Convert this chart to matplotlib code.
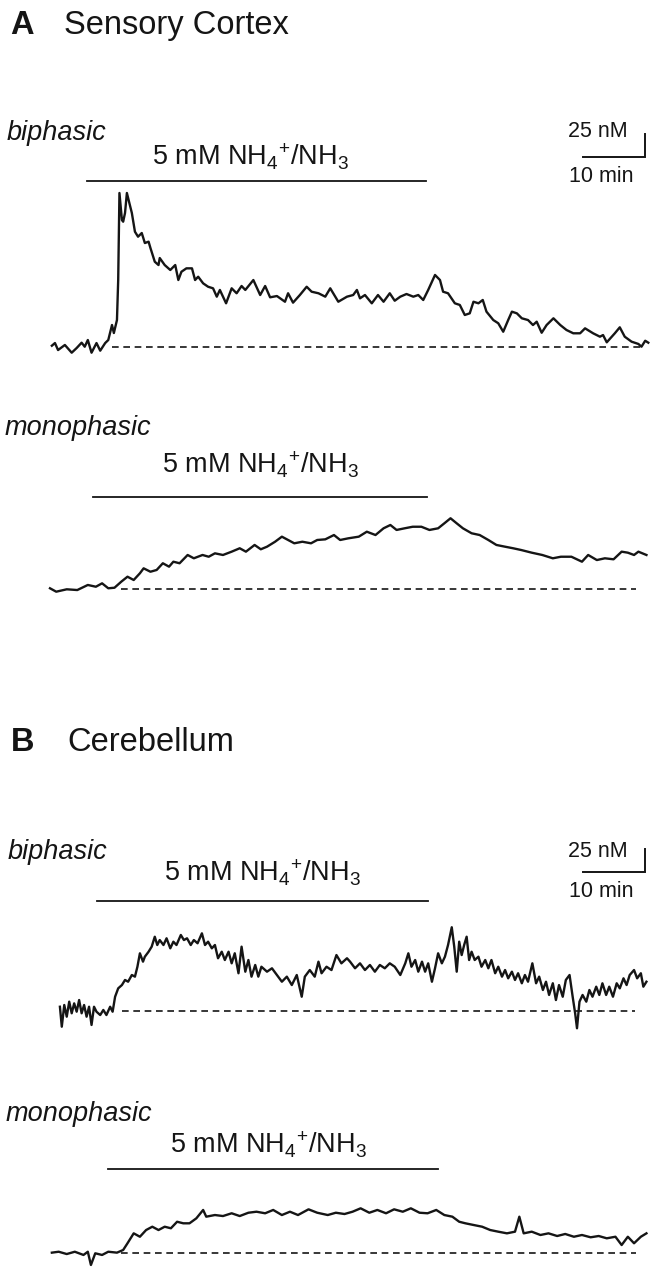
import numpy as np
import matplotlib.pyplot as plt

plt.rcParams["font.family"] = ["Liberation Sans", "DejaVu Sans"]
plt.rcParams["mathtext.fontset"] = "custom"
plt.rcParams["mathtext.rm"] = "Liberation Sans"
plt.rcParams["mathtext.it"] = "Liberation Sans:italic"
plt.rcParams["mathtext.bf"] = "Liberation Sans:bold"

# ---- data: time (min) and [Ca2+] change (nM) ----
cortex_bi_t = [0.3, 0.8, 1.3, 2.4, 3.5, 4.3, 5.1, 5.6, 6.1, 6.7, 7.5, 8.1, 8.9, 9.4, 10.0,
               10.3, 10.8, 11.0, 11.2, 11.6, 11.8, 12.1, 12.4, 12.8, 13.2,
               13.7, 14.2, 14.8, 15.3, 15.9, 16.2, 16.9, 17.5, 17.7, 18.5,
               19.4, 20.2, 20.7, 21.2, 22.0, 22.9, 23.4, 23.9, 24.7, 25.5,
               26.3, 26.9, 27.4, 28.4, 29.3, 30.1, 30.9, 31.5, 32.8, 33.9,
               34.7, 35.5, 36.6, 37.9, 38.4, 39.2, 40.3, 41.4, 42.2, 43.3,
               44.4, 45.2, 46.5, 47.9, 48.9, 49.5, 50.0, 50.8, 51.9, 52.9,
               53.8, 54.8, 55.6, 56.5, 57.5, 58.6, 59.4, 60.2, 61.0, 62.1,
               62.9, 63.4, 64.2, 65.3, 66.1, 66.9, 67.7, 68.3, 69.1, 69.8,
               70.4, 71.5, 72.3, 73.1, 73.9, 74.5, 75.3, 76.1, 77.1, 77.9,
               78.5, 79.3, 80.1, 81.2, 82.3, 83.3, 84.4, 85.5, 86.3, 87.6,
               88.7, 89.2, 89.8, 91.1, 91.9, 92.7, 93.8, 94.9, 95.4, 96.0, 96.5]
cortex_bi_ca = [1.4, 4.3, -3.3, 2.2, -6.2, -1.1, 4.7, 0.3, 7.6, -6.2, 4.3, -4.0, 4.3, 7.6, 23.9,
                15.2, 29.3, 72.8, 167.4, 138.0, 136.2, 145.7, 167.4, 156.5, 145.7,
                125.3, 119.9, 123.9, 113.0, 114.5, 107.6, 92.7, 89.1, 96.7, 89.1,
                83.7, 89.1, 72.8, 81.8, 85.5, 85.5, 72.8, 76.4, 69.2, 65.5,
                63.8, 54.7, 62.0, 47.5, 63.8, 58.4, 66.3, 62.0, 72.8, 56.5,
                66.3, 54.0, 55.4, 49.2, 58.4, 48.2, 56.5, 65.5, 60.1, 58.4,
                54.7, 63.8, 49.2, 54.7, 56.5, 62.0, 52.9, 56.5, 47.5, 56.5,
                49.2, 58.4, 50.3, 54.7, 57.6, 54.7, 56.5, 51.1, 62.0, 78.3,
                72.8, 60.1, 58.4, 47.5, 45.7, 34.8, 36.6, 49.2, 47.5, 51.1,
                38.4, 29.3, 25.8, 16.6, 29.3, 38.4, 36.6, 31.2, 29.3, 23.9,
                27.5, 15.5, 23.9, 31.2, 23.9, 18.5, 14.9, 14.9, 20.3, 14.9,
                11.2, 13.0, 5.1, 14.9, 21.4, 11.2, 5.8, 3.3, 0.3, 6.8, 4.7]

cortex_mono_t = [0.0, 1.0, 2.7, 4.4, 6.1, 7.4, 8.4, 9.4, 10.4, 11.5,
                 12.5, 13.5, 14.5, 15.1, 16.2, 17.2, 18.2, 19.2, 19.9, 20.9,
                 22.2, 23.2, 24.6, 25.6, 26.6, 27.9, 29.3, 30.6, 31.6, 33.0,
                 34.0, 35.0, 36.3, 37.4, 38.4, 39.4, 40.7, 42.1, 43.1, 44.4,
                 45.8, 46.8, 48.1, 49.8, 51.1, 52.5, 53.8, 54.9, 55.9, 57.2,
                 58.5, 59.9, 61.2, 62.6, 63.6, 64.6, 65.6, 66.6, 68.0, 69.3,
                 70.7, 72.0, 73.4, 74.7, 76.0, 77.7, 79.4, 81.1, 82.4, 84.1,
                 85.8, 86.8, 88.2, 89.5, 90.9, 92.2, 93.2, 94.2, 94.9, 96.2]
cortex_mono_ca = [1.1, -2.6, 0.0, -0.8, 4.7, 2.8, 6.5, 1.1, 1.7, 8.3,
                  13.7, 10.1, 17.4, 22.8, 19.1, 21.0, 28.3, 24.6, 30.0, 28.3,
                  37.3, 33.7, 37.3, 35.4, 39.1, 37.3, 40.9, 44.6, 40.9, 48.2,
                  43.5, 46.3, 51.7, 57.2, 53.6, 50.0, 51.7, 50.0, 53.6, 54.3,
                  59.0, 53.6, 55.4, 57.2, 62.6, 59.0, 66.3, 69.9, 64.5, 66.3,
                  68.0, 68.0, 64.5, 66.3, 71.7, 77.2, 71.7, 66.3, 60.9, 59.0,
                  53.6, 48.2, 46.3, 44.6, 42.7, 39.8, 37.3, 33.7, 35.4, 35.4,
                  30.0, 37.3, 31.8, 33.7, 32.6, 40.9, 39.8, 37.3, 40.9, 37.3]

cereb_bi_t = [1.6, 1.9, 2.3, 2.7, 3.1, 3.5, 3.9, 4.3, 4.7, 5.1,
              5.5, 5.9, 6.3, 6.7, 7.1, 7.5, 8.1, 8.6, 9.1, 9.7,
              10.1, 10.5, 11.0, 11.6, 12.1, 12.6, 13.2, 13.7, 14.1, 14.5,
              15.0, 15.3, 15.9, 16.4, 16.9, 17.3, 17.7, 18.3, 18.8, 19.4,
              19.9, 20.4, 21.1, 21.6, 22.1, 22.7, 23.2, 23.8, 24.5, 25.0,
              25.5, 26.1, 26.6, 27.1, 27.7, 28.2, 28.8, 29.3, 29.8, 30.4,
              30.9, 31.5, 32.0, 32.5, 33.1, 33.6, 34.1, 35.0, 35.8, 36.6,
              37.4, 38.2, 39.0, 39.8, 40.6, 41.1, 41.9, 42.7, 43.3, 43.8,
              44.6, 45.4, 46.2, 47.0, 47.9, 48.4, 49.2, 50.0, 50.8, 51.6,
              52.4, 53.2, 54.0, 54.8, 55.6, 56.5, 57.3, 57.8, 58.3, 58.9,
              59.4, 60.0, 60.5, 61.0, 61.6, 62.1, 62.6, 63.2, 63.7, 64.2,
              64.8, 65.2, 65.6, 66.0, 66.4, 66.8, 67.2, 67.6, 68.0, 68.5,
              69.1, 69.6, 70.2, 70.7, 71.2, 71.8, 72.3, 72.9, 73.4, 73.9,
              74.5, 75.0, 75.5, 76.1, 76.6, 77.1, 77.8, 78.4, 78.9, 79.5,
              80.0, 80.5, 81.1, 81.6, 82.1, 82.7, 83.2, 83.8, 84.3, 84.7,
              85.0, 85.4, 85.9, 86.5, 87.0, 87.5, 88.1, 88.6, 89.1, 89.7,
              90.2, 90.8, 91.4, 91.9, 92.5, 93.0, 93.5, 94.2, 94.7, 95.3,
              95.7, 96.2]
cereb_bi_ca = [4.3, -17.4, 6.2, -6.5, 9.8, -2.8, 8.0, -1.1, 11.6, -2.8,
               6.2, -6.5, 4.3, -15.5, 4.3, -1.1, -4.7, 0.8, -4.7, 4.3,
               -1.1, 15.2, 24.3, 27.9, 33.4, 31.5, 38.8, 37.0, 47.8, 62.4,
               53.3, 58.7, 64.1, 69.6, 80.4, 71.4, 76.8, 71.4, 78.7, 67.8,
               75.0, 71.4, 82.3, 76.8, 78.7, 71.4, 76.8, 73.3, 84.1, 71.4,
               75.0, 67.8, 71.4, 57.0, 64.1, 55.1, 64.1, 51.5, 62.4, 40.7,
               69.6, 42.4, 55.1, 37.0, 49.7, 37.0, 47.8, 42.4, 46.1, 38.8,
               31.5, 37.0, 27.9, 38.8, 15.2, 37.0, 44.2, 37.0, 53.3, 40.7,
               47.8, 44.2, 60.5, 51.5, 57.0, 53.3, 46.1, 51.5, 44.2, 49.7,
               42.4, 49.7, 46.1, 51.5, 47.8, 38.8, 51.5, 62.4, 47.8, 55.1,
               42.4, 53.3, 42.4, 51.5, 31.5, 46.1, 62.4, 51.5, 58.7, 71.4,
               90.7, 69.6, 42.4, 75.0, 60.5, 71.4, 80.4, 55.1, 64.1, 55.1,
               58.7, 47.8, 55.1, 46.1, 55.1, 40.7, 47.8, 37.0, 44.2, 35.2,
               42.4, 33.4, 40.7, 29.8, 38.8, 31.5, 51.5, 29.8, 37.0, 22.5,
               31.5, 17.1, 29.8, 11.6, 27.9, 15.2, 33.4, 38.8, 15.2, -2.8,
               -19.1, 9.8, 17.1, 9.8, 22.5, 15.2, 26.1, 17.1, 29.8, 17.1,
               26.1, 15.2, 29.8, 24.3, 35.2, 27.9, 38.8, 44.2, 35.2, 40.7,
               26.1, 31.5]

cereb_mono_t = [0.3, 1.4, 2.7, 4.0, 5.4, 6.1, 6.6, 7.3, 8.4, 9.4,
                10.8, 11.8, 12.5, 13.5, 14.5, 15.5, 16.5, 17.5, 18.5, 19.5,
                20.5, 21.5, 22.5, 23.6, 24.7, 25.2, 26.6, 27.9, 29.3, 30.6,
                32.0, 33.3, 34.7, 36.0, 37.4, 38.7, 40.0, 41.7, 43.1, 44.8,
                46.1, 47.5, 48.8, 50.1, 51.5, 52.8, 54.2, 55.5, 56.9, 58.2,
                59.6, 60.9, 62.3, 63.6, 64.9, 66.0, 67.0, 68.3, 69.7, 71.0,
                72.3, 73.7, 75.0, 75.7, 76.4, 77.7, 79.1, 80.4, 81.8, 83.1,
                84.5, 85.8, 87.2, 88.5, 89.8, 91.2, 92.2, 93.2, 94.2, 95.3, 96.2]
cereb_mono_ca = [0.7, 1.7, -0.8, 1.7, -1.8, 1.7, -12.7, 0.0, -1.8, 1.7,
                 0.7, 3.6, 10.9, 21.7, 18.0, 25.3, 28.9, 25.3, 28.9, 27.2,
                 34.3, 32.6, 32.6, 38.0, 47.1, 39.8, 41.6, 40.5, 43.5, 40.5,
                 44.1, 45.2, 43.5, 47.1, 41.6, 45.2, 41.6, 47.8, 44.1, 41.6,
                 44.1, 42.7, 45.2, 48.9, 44.1, 47.1, 43.5, 47.8, 45.2, 48.9,
                 44.1, 43.5, 47.1, 41.6, 39.8, 34.3, 32.6, 30.8, 28.9, 25.3,
                 23.5, 21.7, 23.5, 39.8, 21.7, 23.5, 19.9, 21.7, 18.8, 21.0,
                 18.0, 19.9, 17.4, 18.8, 16.3, 18.0, 9.0, 18.0, 10.9, 18.0, 21.7]

# NH4+/NH3 application (min) and dashed baseline extent (min)
cortex_bi_app = (6.0, 60.6)
cortex_mono_app = (6.9, 60.8)
cereb_bi_app = (7.6, 60.9)
cereb_mono_app = (9.3, 62.5)
cortex_bi_base = (10.0, 95.2)
cortex_mono_base = (11.5, 94.5)
cereb_bi_base = (11.6, 94.3)
cereb_mono_base = (11.5, 94.5)

SCALE_MIN = 10
SCALE_NM = 25
APP_LABEL = r"5 mM NH$_{4}{}^{+}$/NH$_{3}$"

# ---- layout (pixels) ----
W, H = 654, 1274
PX_PER_MIN = 6.2
PX_PER_NM = 0.92
T0_PX = 50
INK = "#151515"


def fx(px):
    return px / W


def fy(py):
    return 1 - py / H


def trace_axes(fig, base_px, top_px, bottom_px):
    ax = fig.add_axes([0, fy(bottom_px), 1, (bottom_px - top_px) / H])
    ax.set_xlim(-T0_PX / PX_PER_MIN, (W - T0_PX) / PX_PER_MIN)
    ax.set_ylim(-(bottom_px - base_px) / PX_PER_NM, (base_px - top_px) / PX_PER_NM)
    ax.axis("off")
    return ax


def draw_trace(ax, t, ca, app, base, base_px, bar_px):
    ax.plot(t, ca, color=INK, lw=1.7, clip_on=False, solid_joinstyle="round")
    ax.plot(base, [0, 0], color=INK, lw=1.2, ls=(0, (4, 2.8)), clip_on=False)
    lvl = (base_px - bar_px) / PX_PER_NM
    ax.plot(app, [lvl, lvl], color=INK, lw=1.3, clip_on=False)


def scale_bar(ax, base_px, corner_x_px, corner_y_px):
    t_c = (corner_x_px - T0_PX) / PX_PER_MIN
    y_c = (base_px - corner_y_px) / PX_PER_NM
    ax.plot([t_c - SCALE_MIN, t_c, t_c], [y_c, y_c, y_c + SCALE_NM],
            color=INK, lw=1.4, clip_on=False, solid_joinstyle="miter")


fig = plt.figure(figsize=(W / 100, H / 100), dpi=100)

# panel A
ax1 = trace_axes(fig, 347, 100, 380)
draw_trace(ax1, cortex_bi_t, cortex_bi_ca, cortex_bi_app, cortex_bi_base, 347, 180.5)
scale_bar(ax1, 347, 645, 156.7)

ax2 = trace_axes(fig, 589.3, 480, 620)
draw_trace(ax2, cortex_mono_t, cortex_mono_ca, cortex_mono_app, cortex_mono_base, 589.3, 497)

# panel B
ax3 = trace_axes(fig, 1010.7, 830, 1045)
draw_trace(ax3, cereb_bi_t, cereb_bi_ca, cereb_bi_app, cereb_bi_base, 1010.7, 900.7)
scale_bar(ax3, 1010.7, 645, 871.7)

ax4 = trace_axes(fig, 1253.3, 1160, 1274)
draw_trace(ax4, cereb_mono_t, cereb_mono_ca, cereb_mono_app, cereb_mono_base, 1253.3, 1169)

txt = dict(va="baseline", color=INK)
fig.text(fx(10), fy(34), "A", fontsize=23.5, fontweight="bold", **txt)
fig.text(fx(64), fy(34), "Sensory Cortex", fontsize=23.5, **txt)
fig.text(fx(11), fy(751), "B", fontsize=23.5, fontweight="bold", **txt)
fig.text(fx(67), fy(751), "Cerebellum", fontsize=23.5, **txt)

for x, y, s in [(7, 140, "biphasic"), (5, 435, "monophasic"),
                (8, 859, "biphasic"), (6, 1121, "monophasic")]:
    fig.text(fx(x), fy(y), s, fontsize=19.5, style="italic", **txt)

for x, y in [(250, 165), (260, 473), (262, 882), (268, 1154)]:
    fig.text(fx(x), fy(y), APP_LABEL, fontsize=19.5, ha="center", **txt)

for y25, y10 in [(137, 182.5), (857, 897)]:
    fig.text(fx(568), fy(y25), "25 nM", fontsize=15.5, **txt)
    fig.text(fx(569), fy(y10), "10 min", fontsize=15.5, **txt)

fig.savefig("out.png", dpi=100)
